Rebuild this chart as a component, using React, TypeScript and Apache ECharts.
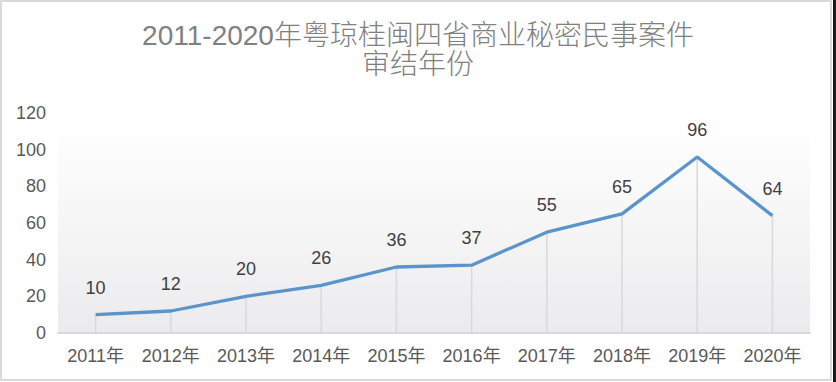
import React, { useEffect, useRef } from "react";
import * as echarts from "echarts";

const titleText = "2011-2020年粤琼桂闽四省商业秘密民事案件\n审结年份";
const categories = ["2011年", "2012年", "2013年", "2014年", "2015年", "2016年", "2017年", "2018年", "2019年", "2020年"];
const values = [10, 12, 20, 26, 36, 37, 55, 65, 96, 64];
const yMin = 0;
const yMax = 120;
const yInterval = 20;

const FONT = "'Liberation Sans', 'Noto Sans CJK SC', sans-serif";

export default function App() {
  const ref = useRef<HTMLDivElement>(null);
  useEffect(() => {
    document.body.style.margin = "0";
    const chart = echarts.init(ref.current!, null, { renderer: "svg" });
    chart.setOption({
      animation: false,
      backgroundColor: "#ffffff",
      title: {
        text: titleText,
        left: "center",
        top: 21,
        padding: 0,
        textStyle: {
          fontFamily: FONT,
          fontSize: 28,
          lineHeight: 29,
          fontWeight: 300,
          color: "#808080",
        },
      },
      graphic: [
        {
          type: "rect",
          shape: { x: 1, y: 1, width: 830, height: 379 },
          style: { fill: "none", stroke: "#d9d9d9", lineWidth: 2 },
          silent: true,
        },
        {
          type: "rect",
          shape: { x: 833, y: 0, width: 3, height: 382 },
          style: { fill: "#1a1a1a" },
          silent: true,
        },
      ],
      grid: {
        left: 58,
        right: 26,
        top: 113,
        bottom: 49,
        show: true,
        borderWidth: 0,
        backgroundColor: new echarts.graphic.LinearGradient(0, 0, 0, 1, [
          { offset: 0, color: "#ffffff" },
          { offset: 0.25, color: "#fbfbfb" },
          { offset: 1, color: "#ebebed" },
        ]),
      },
      xAxis: {
        type: "category",
        data: categories,
        boundaryGap: true,
        axisLine: { show: true, lineStyle: { color: "#d9d9d9", width: 2 } },
        axisTick: { show: false },
        axisLabel: {
          fontFamily: FONT,
          fontSize: 18,
          color: "#595959",
          margin: 14,
          interval: 0,
        },
        splitLine: { show: false },
      },
      yAxis: {
        type: "value",
        min: yMin,
        max: yMax,
        interval: yInterval,
        axisLine: { show: false },
        axisTick: { show: false },
        splitLine: { show: false },
        axisLabel: {
          fontFamily: FONT,
          fontSize: 18,
          color: "#595959",
          margin: 12,
        },
      },
      series: [
        {
          type: "bar",
          data: values,
          barWidth: 1.5,
          itemStyle: { color: "#d9d9d9" },
          silent: true,
          z: 1,
        },
        {
          type: "line",
          data: values,
          symbol: "circle",
          symbolSize: 2,
          showSymbol: true,
          itemStyle: { color: "rgba(0,0,0,0)" },
          lineStyle: { color: "#5a94cb", width: 3.3 },
          label: {
            show: true,
            position: "top",
            distance: 17,
            fontFamily: FONT,
            fontSize: 18,
            color: "#404040",
          },
          z: 3,
        },
      ],
    });
    return () => chart.dispose();
  }, []);
  return <div ref={ref} style={{ width: 836, height: 382 }} />;
}
